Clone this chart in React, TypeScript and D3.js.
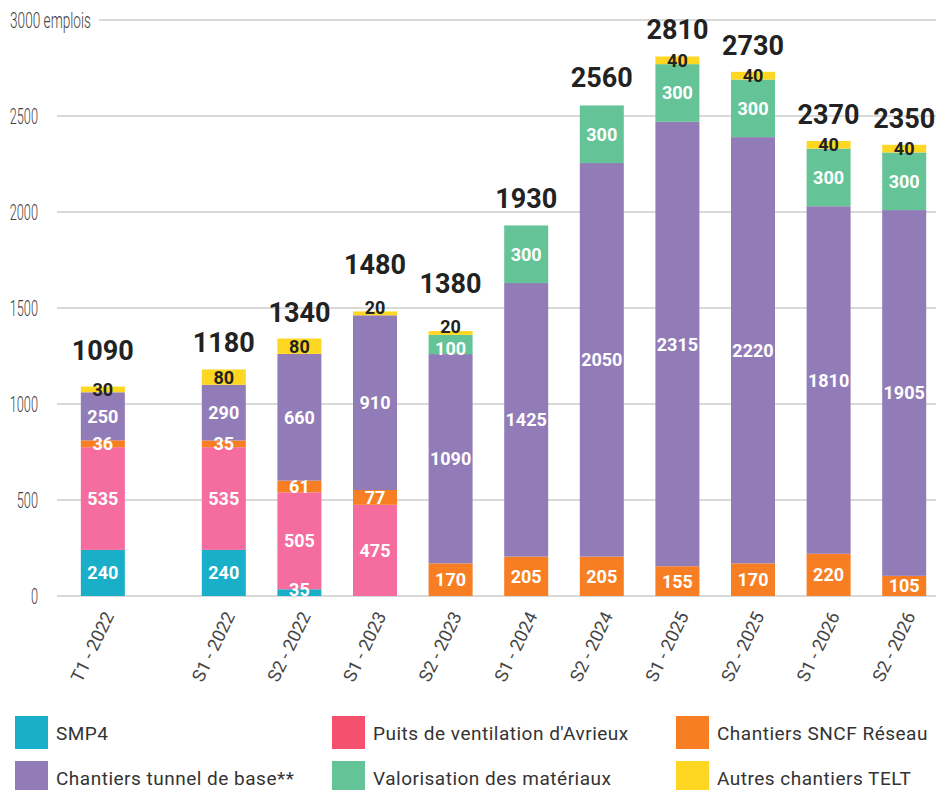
import React from "react";
import * as d3 from "d3";

const categories = [
  "T1 - 2022", "S1 - 2022", "S2 - 2022", "S1 - 2023", "S2 - 2023", "S1 - 2024",
  "S2 - 2024", "S1 - 2025", "S2 - 2025", "S1 - 2026", "S2 - 2026",
];
const seriesNames = [
  "SMP4",
  "Puits de ventilation d'Avrieux",
  "Chantiers SNCF Réseau",
  "Chantiers tunnel de base**",
  "Valorisation des matériaux",
  "Autres chantiers TELT",
];
const smp4 = [240, 240, 35, 0, 0, 0, 0, 0, 0, 0, 0];
const puits = [535, 535, 505, 475, 0, 0, 0, 0, 0, 0, 0];
const sncf = [36, 35, 61, 77, 170, 205, 205, 155, 170, 220, 105];
const tunnel = [250, 290, 660, 910, 1090, 1425, 2050, 2315, 2220, 1810, 1905];
const valorisation = [0, 0, 0, 0, 100, 300, 300, 300, 300, 300, 300];
const autres = [30, 80, 80, 20, 20, 0, 0, 40, 40, 40, 40];
const totals = [1090, 1180, 1340, 1480, 1380, 1930, 2560, 2810, 2730, 2370, 2350];
const yTicks = [0, 500, 1000, 1500, 2000, 2500, 3000];

const barColors = ["#1aafc8", "#f56c9e", "#f77e22", "#927cb8", "#64c497", "#fed723"];
const legendColors = ["#1aafc8", "#f4516f", "#f77e22", "#927cb8", "#64c497", "#fed723"];
const labelColors = ["#ffffff", "#ffffff", "#ffffff", "#ffffff", "#ffffff", "#222222"];

const W = 936;
const H = 790;
const FONT = "Roboto, 'DejaVu Sans', sans-serif";

export default function App() {
  const seriesArrays = [smp4, puits, sncf, tunnel, valorisation, autres];
  const rows = categories.map((c, i) => {
    const r: any = { cat: c };
    seriesNames.forEach((s, k) => (r[s] = seriesArrays[k][i]));
    return r;
  });
  const stacked = d3.stack().keys(seriesNames)(rows);

  const y = d3.scaleLinear().domain([0, 3000]).range([596, 20]);
  const xs = d3
    .scaleBand()
    .domain(categories.slice(1))
    .range([186, 942])
    .paddingInner(0.418)
    .paddingOuter(0.209);
  const bw = xs.bandwidth();
  const step = xs.step();
  const xLeft = (c: string, i: number) =>
    i === 0 ? (xs(categories[1]) as number) - 1.6 * step : (xs(c) as number);

  const topValue = (i: number) => {
    for (let k = seriesArrays.length - 1; k >= 0; k--) {
      if (seriesArrays[k][i] > 0) return seriesArrays[k][i];
    }
    return 0;
  };
  const totalOffset = (i: number) => {
    const t = topValue(i);
    return t < 25 ? 38 : t < 35 ? 27 : 17;
  };

  return (
    <div style={{ position: "absolute", left: 0, top: 0, width: W, height: H, background: "#fff" }}>
      <svg width={W} height={H} style={{ display: "block" }} fontFamily={FONT}>
        <rect x={0} y={0} width={W} height={H} fill="#fff" />
        {/* gridlines */}
        {yTicks.map((t) => (
          <line
            key={t}
            x1={t === 3000 ? 99 : 57}
            x2={W}
            y1={y(t)}
            y2={y(t)}
            stroke="#cccccc"
            strokeWidth={1.5}
          />
        ))}
        {/* y labels */}
        {yTicks.map((t) =>
          t === 3000 ? (
            <text
              key={t}
              transform={`translate(10,${y(t) + 7.5}) scale(0.62,1)`}
              fontSize={22}
              fontWeight={300}
              fill="#444"
            >
              {`${t} emplois`}
            </text>
          ) : (
            <text
              key={t}
              transform={`translate(38,${y(t) + 8}) scale(0.58,1)`}
              fontSize={22}
              fontWeight={300}
              fill="#444"
              textAnchor="end"
            >
              {t}
            </text>
          )
        )}
        {/* bars */}
        {stacked.map((s, k) => (
          <g key={s.key} fill={barColors[k]}>
            {s.map((d, i) =>
              d[1] - d[0] > 0 ? (
                <rect
                  key={i}
                  x={xLeft(categories[i], i)}
                  width={bw}
                  y={y(d[1])}
                  height={y(d[0]) - y(d[1])}
                />
              ) : null
            )}
          </g>
        ))}
        {/* segment labels */}
        {stacked.map((s, k) => (
          <g key={s.key + "l"} fill={labelColors[k]} fontSize={18} fontWeight={700} textAnchor="middle">
            {s.map((d, i) => {
              const v = d[1] - d[0];
              if (v <= 0) return null;
              let cy = Math.min((y(d[0]) + y(d[1])) / 2, y(0) - 7);
              if (v < 25) cy -= 6;
              const above = k + 1 < seriesArrays.length ? seriesArrays[k + 1][i] : 0;
              if (above > 0 && above < 25 && v < 150) cy += 4;
              return (
                <text key={i} x={xLeft(categories[i], i) + bw / 2} y={cy + 6.5}>
                  {v}
                </text>
              );
            })}
          </g>
        ))}
        {/* totals */}
        {totals.map((t, i) => (
          <text
            key={i}
            x={xLeft(categories[i], i) + bw / 2}
            y={y(t) - totalOffset(i)}
            fontSize={27}
            fontWeight={700}
            fill="#222"
            textAnchor="middle"
          >
            {t}
          </text>
        ))}
        {/* x labels */}
        {categories.map((c, i) => (
          <text
            key={c}
            transform={`translate(${xLeft(c, i) + bw / 2 + 6},${613}) rotate(-64)`}
            fontSize={18}
            fontWeight={400}
            fill="#444"
            textAnchor="end"
            dy="0.35em"
          >
            {c}
          </text>
        ))}
        {/* legend */}
        {seriesNames.map((s, k) => {
          const col = k % 3;
          const row = Math.floor(k / 3);
          const sx = [15, 332, 676][col];
          const sy = 716 + row * 45;
          return (
            <g key={s}>
              <rect x={sx} y={sy} width={33} height={33} fill={legendColors[k]} />
              <text x={sx + 41} y={sy + 23.5} fontSize={19} fill="#333" letterSpacing={0.5}>
                {s}
              </text>
            </g>
          );
        })}
      </svg>
    </div>
  );
}
